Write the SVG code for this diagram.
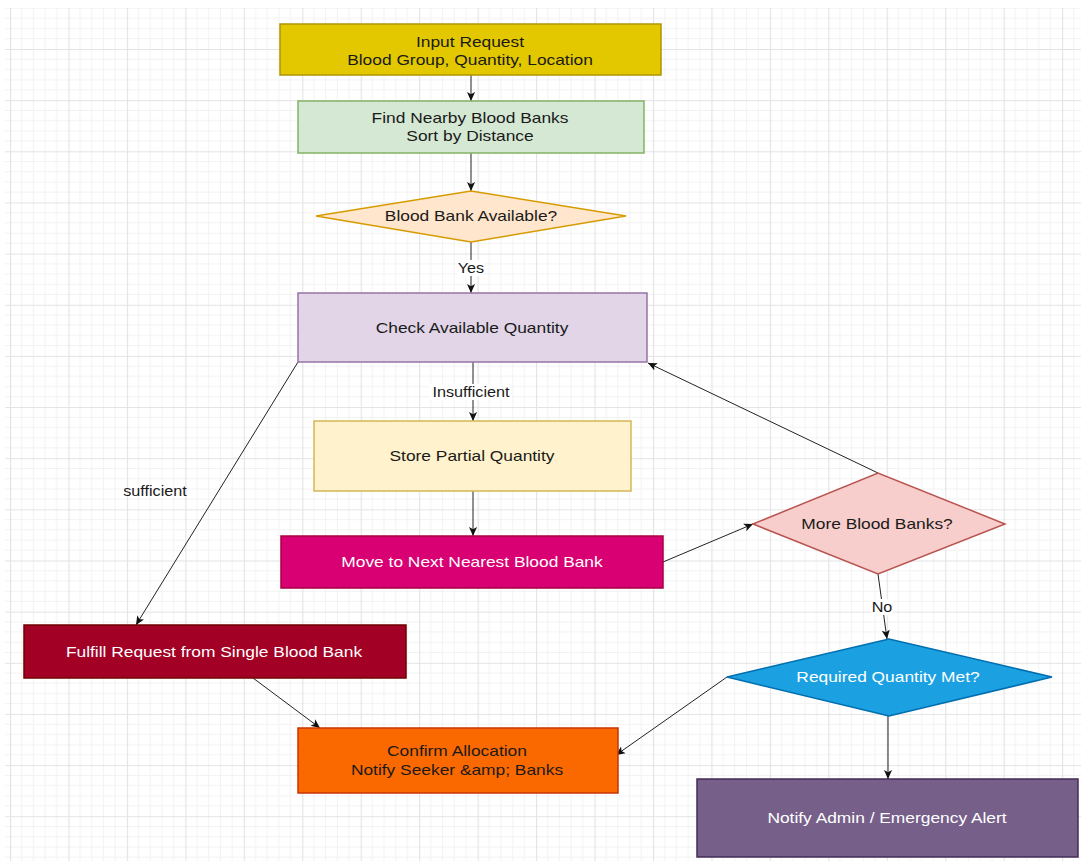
<svg xmlns="http://www.w3.org/2000/svg" width="1081" height="861" viewBox="0 0 1081 861">
<style>
  .t { font-family: "Liberation Sans", Arial, Helvetica, sans-serif; font-size: 15px; text-anchor: middle; fill: #1a1a1a; }
  .w { fill: #ffffff; }
  .lbl { font-family: "Liberation Sans", Arial, Helvetica, sans-serif; font-size: 14px; text-anchor: middle; fill: #1a1a1a; }
  .edge { fill: none; stroke: #222222; stroke-width: 1; marker-end: url(#arr); }
</style>
<defs>
  <pattern id="grid" patternUnits="userSpaceOnUse" x="10" y="49" width="58.45" height="51.15">
    <g stroke="#f2f2f2" stroke-width="1">
      <line x1="11.69" y1="0" x2="11.69" y2="51.15"/>
      <line x1="23.38" y1="0" x2="23.38" y2="51.15"/>
      <line x1="35.07" y1="0" x2="35.07" y2="51.15"/>
      <line x1="46.76" y1="0" x2="46.76" y2="51.15"/>
      <line x1="0" y1="10.23" x2="58.45" y2="10.23"/>
      <line x1="0" y1="20.46" x2="58.45" y2="20.46"/>
      <line x1="0" y1="30.69" x2="58.45" y2="30.69"/>
      <line x1="0" y1="40.92" x2="58.45" y2="40.92"/>
    </g>
    <g stroke="#e3e3e3" stroke-width="1.2">
      <line x1="0.5" y1="0" x2="0.5" y2="51.15"/>
      <line x1="0" y1="0.5" x2="58.45" y2="0.5"/>
    </g>
  </pattern>
  <marker id="arr" viewBox="0 0 10 10" refX="10" refY="5" markerWidth="9" markerHeight="9" markerUnits="userSpaceOnUse" orient="auto">
    <path d="M0,0.5 L10,5 L0,9.5 L2.5,5 z" fill="#111111"/>
  </marker>
</defs>
<rect x="0" y="0" width="1081" height="861" fill="#ffffff"/>
<rect x="5" y="8" width="1076" height="853" fill="url(#grid)"/>

<g id="connectors">
  <path class="edge" d="M471,75 L471,101"/>
  <path class="edge" d="M471,153 L471,191"/>
  <path class="edge" d="M471,242 L471,293"/>
  <path class="edge" d="M473,362 L473,421"/>
  <path class="edge" d="M298,362 L136,625"/>
  <path class="edge" d="M473,491 L473,536"/>
  <path class="edge" d="M663,562 L753,524"/>
  <path class="edge" d="M878,473 L648,363"/>
  <path class="edge" d="M878,574 L887,639"/>
  <path class="edge" d="M727,677 L616,755"/>
  <path class="edge" d="M888,716 L888,779"/>
  <path class="edge" d="M253,678 L320,728"/>
  <rect x="457" y="260" width="28" height="16" fill="#ffffff"/>
  <text class="lbl" transform="translate(471,273) scale(1.157,1)">Yes</text>
  <rect x="430" y="384" width="82" height="16" fill="#ffffff"/>
  <text class="lbl" transform="translate(471,397) scale(1.157,1)">Insufficient</text>
  <text class="lbl" transform="translate(155,496) scale(1.157,1)">sufficient</text>
  <rect x="871" y="599" width="22" height="16" fill="#ffffff"/>
  <text class="lbl" transform="translate(882,612) scale(1.157,1)">No</text>
</g>

<g id="input-request">
  <rect x="280" y="24" width="381" height="51" fill="#e3c800" stroke="#b09500" stroke-width="1.5"/>
  <text class="t" transform="translate(470,47) scale(1.157,1)">Input Request</text>
  <text class="t" transform="translate(470,65) scale(1.157,1)">Blood Group, Quantity, Location</text>
</g>
<g id="find-nearby">
  <rect x="298" y="101" width="346" height="52" fill="#d5e8d4" stroke="#82b366" stroke-width="1.5"/>
  <text class="t" transform="translate(470,123) scale(1.157,1)">Find Nearby Blood Banks</text>
  <text class="t" transform="translate(470,141) scale(1.157,1)">Sort by Distance</text>
</g>
<g id="bank-available">
  <polygon points="316,216 471,191 626,216 471,242" fill="#ffe6cc" stroke="#d79b00" stroke-width="1.5"/>
  <text class="t" transform="translate(471,221) scale(1.157,1)">Blood Bank Available?</text>
</g>
<g id="check-quantity">
  <rect x="298" y="293" width="349" height="69" fill="#e1d5e7" stroke="#9673a6" stroke-width="1.5"/>
  <text class="t" transform="translate(472,333) scale(1.157,1)">Check Available Quantity</text>
</g>
<g id="store-partial">
  <rect x="314" y="421" width="317" height="70" fill="#fff2cc" stroke="#d6b656" stroke-width="1.5"/>
  <text class="t" transform="translate(472,461) scale(1.157,1)">Store Partial Quantity</text>
</g>
<g id="move-next">
  <rect x="281" y="536" width="382" height="52" fill="#d80073" stroke="#a50040" stroke-width="1.5"/>
  <text class="t w" transform="translate(472,567) scale(1.157,1)">Move to Next Nearest Blood Bank</text>
</g>
<g id="more-banks">
  <polygon points="753,524 878,473 1005,524 878,574" fill="#f8cecc" stroke="#b85450" stroke-width="1.5"/>
  <text class="t" transform="translate(877,529) scale(1.157,1)">More Blood Banks?</text>
</g>
<g id="fulfill-single">
  <rect x="24" y="625" width="382" height="53" fill="#a20025" stroke="#6f0000" stroke-width="1.5"/>
  <text class="t w" transform="translate(214,657) scale(1.157,1)">Fulfill Request from Single Blood Bank</text>
</g>
<g id="quantity-met">
  <polygon points="727,677 889,639 1052,677 889,716" fill="#1ba1e2" stroke="#006eaf" stroke-width="1.5"/>
  <text class="t w" transform="translate(888,682) scale(1.157,1)">Required Quantity Met?</text>
</g>
<g id="confirm-allocation">
  <rect x="298" y="728" width="320" height="65" fill="#fa6800" stroke="#c73500" stroke-width="1.5"/>
  <text class="t" transform="translate(457,756) scale(1.157,1)">Confirm Allocation</text>
  <text class="t" transform="translate(457,775) scale(1.157,1)">Notify Seeker &amp;amp; Banks</text>
</g>
<g id="notify-admin">
  <rect x="697" y="779" width="381" height="78" fill="#76608a" stroke="#432d57" stroke-width="1.5"/>
  <text class="t w" transform="translate(887,823) scale(1.157,1)">Notify Admin / Emergency Alert</text>
</g>
</svg>
